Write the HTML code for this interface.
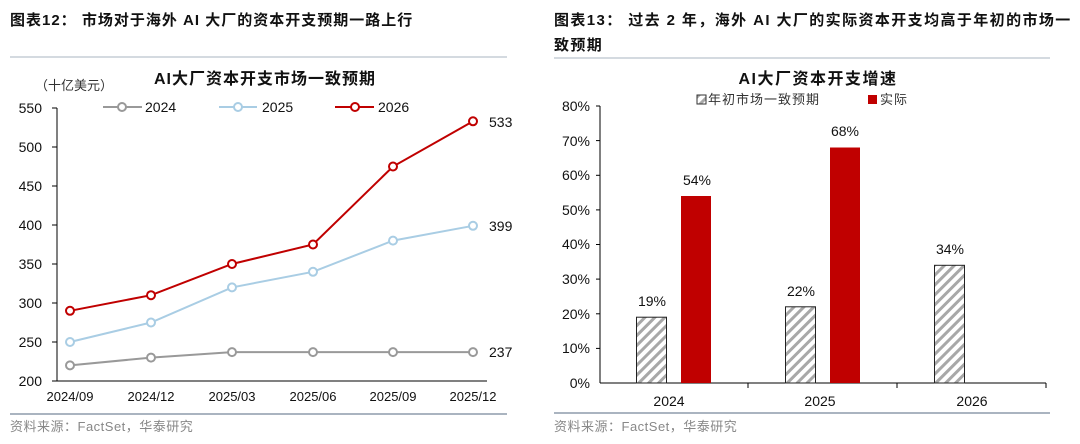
<!DOCTYPE html>
<html><head><meta charset="utf-8"><style>
body{margin:0;background:#fff;width:1080px;height:439px;overflow:hidden}
svg text{font-family:"Liberation Sans","Noto Sans CJK SC",sans-serif}
</style></head><body>
<svg width="1080" height="439" xmlns="http://www.w3.org/2000/svg">
<defs><pattern id="h" width="7" height="7" patternUnits="userSpaceOnUse" patternTransform="rotate(45)"><rect width="7" height="7" fill="#fff"/><rect width="3" height="7" fill="#a8a8a8"/></pattern></defs>
<!-- left -->
<text x="10" y="25" font-size="15" font-weight="bold" fill="#111" letter-spacing="1">图表12：  市场对于海外 AI 大厂的资本开支预期一路上行</text>
<line x1="10" y1="57" x2="507" y2="57" stroke="#aab4c0" stroke-width="1"/>
<text x="265" y="84" font-size="16" font-weight="bold" text-anchor="middle" fill="#111" letter-spacing="1">AI大厂资本开支市场一致预期</text>
<text x="35" y="90" font-size="13" fill="#333">（十亿美元）</text>
<g font-size="14" fill="#111" text-anchor="end">
<text x="42" y="113">550</text><text x="42" y="152">500</text><text x="42" y="191">450</text><text x="42" y="230">400</text><text x="42" y="269">350</text><text x="42" y="308">300</text><text x="42" y="347">250</text><text x="42" y="386">200</text></g>
<g stroke="#000" stroke-width="1"><line x1="57" y1="108" x2="57" y2="381"/><line x1="57" y1="381" x2="487" y2="381"/>
<line x1="52" y1="108" x2="57" y2="108"/><line x1="52" y1="147" x2="57" y2="147"/><line x1="52" y1="186" x2="57" y2="186"/><line x1="52" y1="225" x2="57" y2="225"/><line x1="52" y1="264" x2="57" y2="264"/><line x1="52" y1="303" x2="57" y2="303"/><line x1="52" y1="342" x2="57" y2="342"/><line x1="52" y1="381" x2="57" y2="381"/></g>
<g font-size="13" fill="#111" text-anchor="middle"><text x="70" y="401">2024/09</text><text x="151" y="401">2024/12</text><text x="232" y="401">2025/03</text><text x="313" y="401">2025/06</text><text x="393" y="401">2025/09</text><text x="473" y="401">2025/12</text></g>
<g fill="#fff" stroke-width="2">
<polyline points="70,365.4 151,357.6 232,352.1 313,352.1 393,352.1 473,352.1" fill="none" stroke="#999"/>
<g stroke="#999"><circle cx="70" cy="365.4" r="4"/><circle cx="151" cy="357.6" r="4"/><circle cx="232" cy="352.1" r="4"/><circle cx="313" cy="352.1" r="4"/><circle cx="393" cy="352.1" r="4"/><circle cx="473" cy="352.1" r="4"/></g>
<polyline points="70,342 151,322.5 232,287.4 313,271.8 393,240.6 473,225.8" fill="none" stroke="#a9cde4"/>
<g stroke="#a9cde4"><circle cx="70" cy="342" r="4"/><circle cx="151" cy="322.5" r="4"/><circle cx="232" cy="287.4" r="4"/><circle cx="313" cy="271.8" r="4"/><circle cx="393" cy="240.6" r="4"/><circle cx="473" cy="225.8" r="4"/></g>
<polyline points="70,310.8 151,295.2 232,264 313,244.5 393,166.5 473,121.3" fill="none" stroke="#c00000"/>
<g stroke="#c00000"><circle cx="70" cy="310.8" r="4"/><circle cx="151" cy="295.2" r="4"/><circle cx="232" cy="264" r="4"/><circle cx="313" cy="244.5" r="4"/><circle cx="393" cy="166.5" r="4"/><circle cx="473" cy="121.3" r="4"/></g>
<line x1="103" y1="107" x2="142" y2="107" stroke="#999"/><circle cx="122" cy="107" r="4" stroke="#999"/>
<line x1="219" y1="107" x2="257" y2="107" stroke="#a9cde4"/><circle cx="238" cy="107" r="4" stroke="#a9cde4"/>
<line x1="335" y1="107" x2="374" y2="107" stroke="#c00000"/><circle cx="355" cy="107" r="4" stroke="#c00000"/>
</g>
<g font-size="14" fill="#111"><text x="145" y="112">2024</text><text x="262" y="112">2025</text><text x="378" y="112">2026</text>
<text x="489" y="127">533</text><text x="489" y="231">399</text><text x="489" y="357">237</text></g>
<line x1="10" y1="414" x2="507" y2="414" stroke="#aab4c0" stroke-width="2"/>
<text x="10" y="431" font-size="13" fill="#888" letter-spacing="0.5">资料来源：FactSet，华泰研究</text>
<!-- right -->
<text x="554" y="25" font-size="15" font-weight="bold" fill="#111" letter-spacing="1.4">图表13：  过去 2 年，海外 AI 大厂的实际资本开支均高于年初的市场一</text>
<text x="554" y="50" font-size="15" font-weight="bold" fill="#111" letter-spacing="1.4">致预期</text>
<line x1="554" y1="58" x2="1050" y2="58" stroke="#aab4c0" stroke-width="1"/>
<text x="818" y="84" font-size="16" font-weight="bold" text-anchor="middle" fill="#111" letter-spacing="1.5">AI大厂资本开支增速</text>
<rect x="697" y="95" width="9" height="9" fill="url(#h)" stroke="#333"/>
<text x="708" y="104" font-size="13" fill="#333" letter-spacing="1">年初市场一致预期</text>
<rect x="868" y="95" width="9" height="9" fill="#c00000"/>
<text x="880" y="104" font-size="13" fill="#333" letter-spacing="1">实际</text>
<g font-size="14" fill="#111" text-anchor="end">
<text x="590" y="111">80%</text><text x="590" y="146">70%</text><text x="590" y="180">60%</text><text x="590" y="215">50%</text><text x="590" y="249">40%</text><text x="590" y="284">30%</text><text x="590" y="319">20%</text><text x="590" y="353">10%</text><text x="590" y="388">0%</text></g>
<g stroke="#000" stroke-width="1"><line x1="600" y1="106" x2="600" y2="383"/><line x1="600" y1="383" x2="1046" y2="383"/>
<line x1="596" y1="106" x2="600" y2="106"/><line x1="596" y1="140.6" x2="600" y2="140.6"/><line x1="596" y1="175.3" x2="600" y2="175.3"/><line x1="596" y1="209.9" x2="600" y2="209.9"/><line x1="596" y1="244.5" x2="600" y2="244.5"/><line x1="596" y1="279.1" x2="600" y2="279.1"/><line x1="596" y1="313.8" x2="600" y2="313.8"/><line x1="596" y1="348.4" x2="600" y2="348.4"/>
<line x1="748" y1="383" x2="748" y2="388"/><line x1="897" y1="383" x2="897" y2="388"/><line x1="1046" y1="383" x2="1046" y2="388"/></g>
<g stroke="#222" stroke-width="1">
<rect x="636.5" y="317.2" width="30" height="65.8" fill="url(#h)"/>
<rect x="785.5" y="306.8" width="30" height="76.2" fill="url(#h)"/>
<rect x="934.5" y="265.3" width="30" height="117.7" fill="url(#h)"/></g>
<rect x="681" y="196" width="30" height="187" fill="#c00000"/>
<rect x="830" y="147.5" width="30" height="235.5" fill="#c00000"/>
<g font-size="14" fill="#111" text-anchor="middle">
<text x="652" y="306">19%</text><text x="697" y="185">54%</text><text x="801" y="296">22%</text><text x="845" y="136">68%</text><text x="950" y="254">34%</text>
<text x="669" y="406">2024</text><text x="820" y="406">2025</text><text x="972" y="406">2026</text></g>
<line x1="554" y1="413" x2="1050" y2="413" stroke="#aab4c0" stroke-width="2"/>
<text x="554" y="431" font-size="13" fill="#888" letter-spacing="0.5">资料来源：FactSet，华泰研究</text>
</svg>
</body></html>
